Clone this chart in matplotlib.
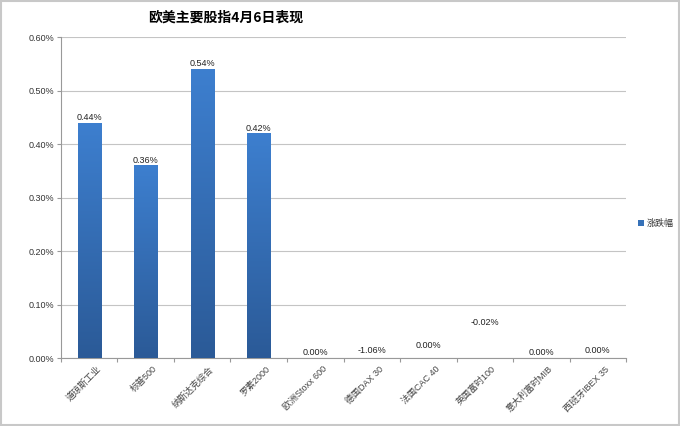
import matplotlib
matplotlib.use("Agg")
import matplotlib.pyplot as plt
import numpy as np
from matplotlib.colors import LinearSegmentedColormap
from matplotlib.patches import Rectangle

plt.rcParams['font.family'] = ['Liberation Sans', 'Noto Sans CJK SC', 'DejaVu Sans']

title = "欧美主要股指4月6日表现"
categories = ["道琼斯工业", "标普500", "纳斯达克综合", "罗素2000", "欧洲Stoxx 600",
              "德国DAX 30", "法国CAC 40", "英国富时100", "意大利富时MIB", "西班牙IBEX 35"]
values = [0.44, 0.36, 0.54, 0.42, 0.00, -1.06, 0.00, -0.02, 0.00, 0.00]
series_name = "涨跌幅"
yticks = [0.0, 0.1, 0.2, 0.3, 0.4, 0.5, 0.6]

# label offsets above bar top / baseline (points)
label_offsets = [0.5, 0.5, 0.5, 0.5, 1, 2.5, 6, 22, 0.5, 2]

fig = plt.figure(figsize=(6.8, 4.26), dpi=100)
ax = fig.add_axes([0.0897, 0.1596, 0.8309, 0.7535])

x = np.arange(len(categories))
bars = ax.bar(x, values, width=0.41, color='none', edgecolor='none', zorder=3)

cmap = LinearSegmentedColormap.from_list("bar", ["#2b5a97", "#3d7fcf"])
grad = np.linspace(0, 1, 256).reshape(-1, 1)
for b in bars:
    h = b.get_height()
    if h <= 0:
        continue
    x0 = b.get_x()
    im = ax.imshow(grad, cmap=cmap, origin='lower', aspect='auto',
                   extent=[x0, x0 + b.get_width(), 0, h], zorder=3)
    im.set_clip_path(b)

ax.set_xlim(-0.5, len(categories) - 0.5)
ax.set_ylim(0, 0.6)

for xi, v, off in zip(x, values, label_offsets):
    ax.annotate(f"{v:.2f}%", (xi, max(v, 0)), xytext=(0, off),
                textcoords='offset points', ha='center', va='bottom',
                fontsize=6.5, color='#222222', zorder=4)

ax.set_yticks(yticks)
ax.set_yticklabels([f"{t:.2f}%" for t in yticks], fontsize=6.5, color='#333333')
ax.yaxis.grid(True, color='#c4c4c4', linewidth=0.8, zorder=0)
ax.tick_params(axis='y', length=3, color='#999999', pad=2)

ax.set_xticks(np.arange(len(categories) + 1) - 0.5)
ax.set_xticklabels([])
ax.tick_params(axis='x', length=3, color='#999999')
for xi, c in zip(x, categories):
    ax.text(xi + 0.12, -0.012, c, rotation=45, ha='right', va='top',
            fontsize=6.5, color='#444444', rotation_mode='anchor')

for s in ['top', 'right']:
    ax.spines[s].set_visible(False)
for s in ['left', 'bottom']:
    ax.spines[s].set_color('#999999')
    ax.spines[s].set_linewidth(0.8)

fig.text(0.332, 0.958, title, ha='center', va='center', fontsize=10,
         fontweight='bold', family=['Noto Sans CJK SC', 'DejaVu Sans'])

fig.patches.append(Rectangle((0.938, 0.469), 0.009, 0.014, transform=fig.transFigure,
                             facecolor='#3671b8', edgecolor='none'))
fig.text(0.951, 0.476, series_name, ha='left', va='center', fontsize=6.5,
         color='#333333')

fig.patches.append(Rectangle((0.001, 0.002), 0.997, 0.996, transform=fig.transFigure,
                             facecolor='none', edgecolor='#c8c8c8', linewidth=1.5))

fig.savefig("out.png", dpi=100)
